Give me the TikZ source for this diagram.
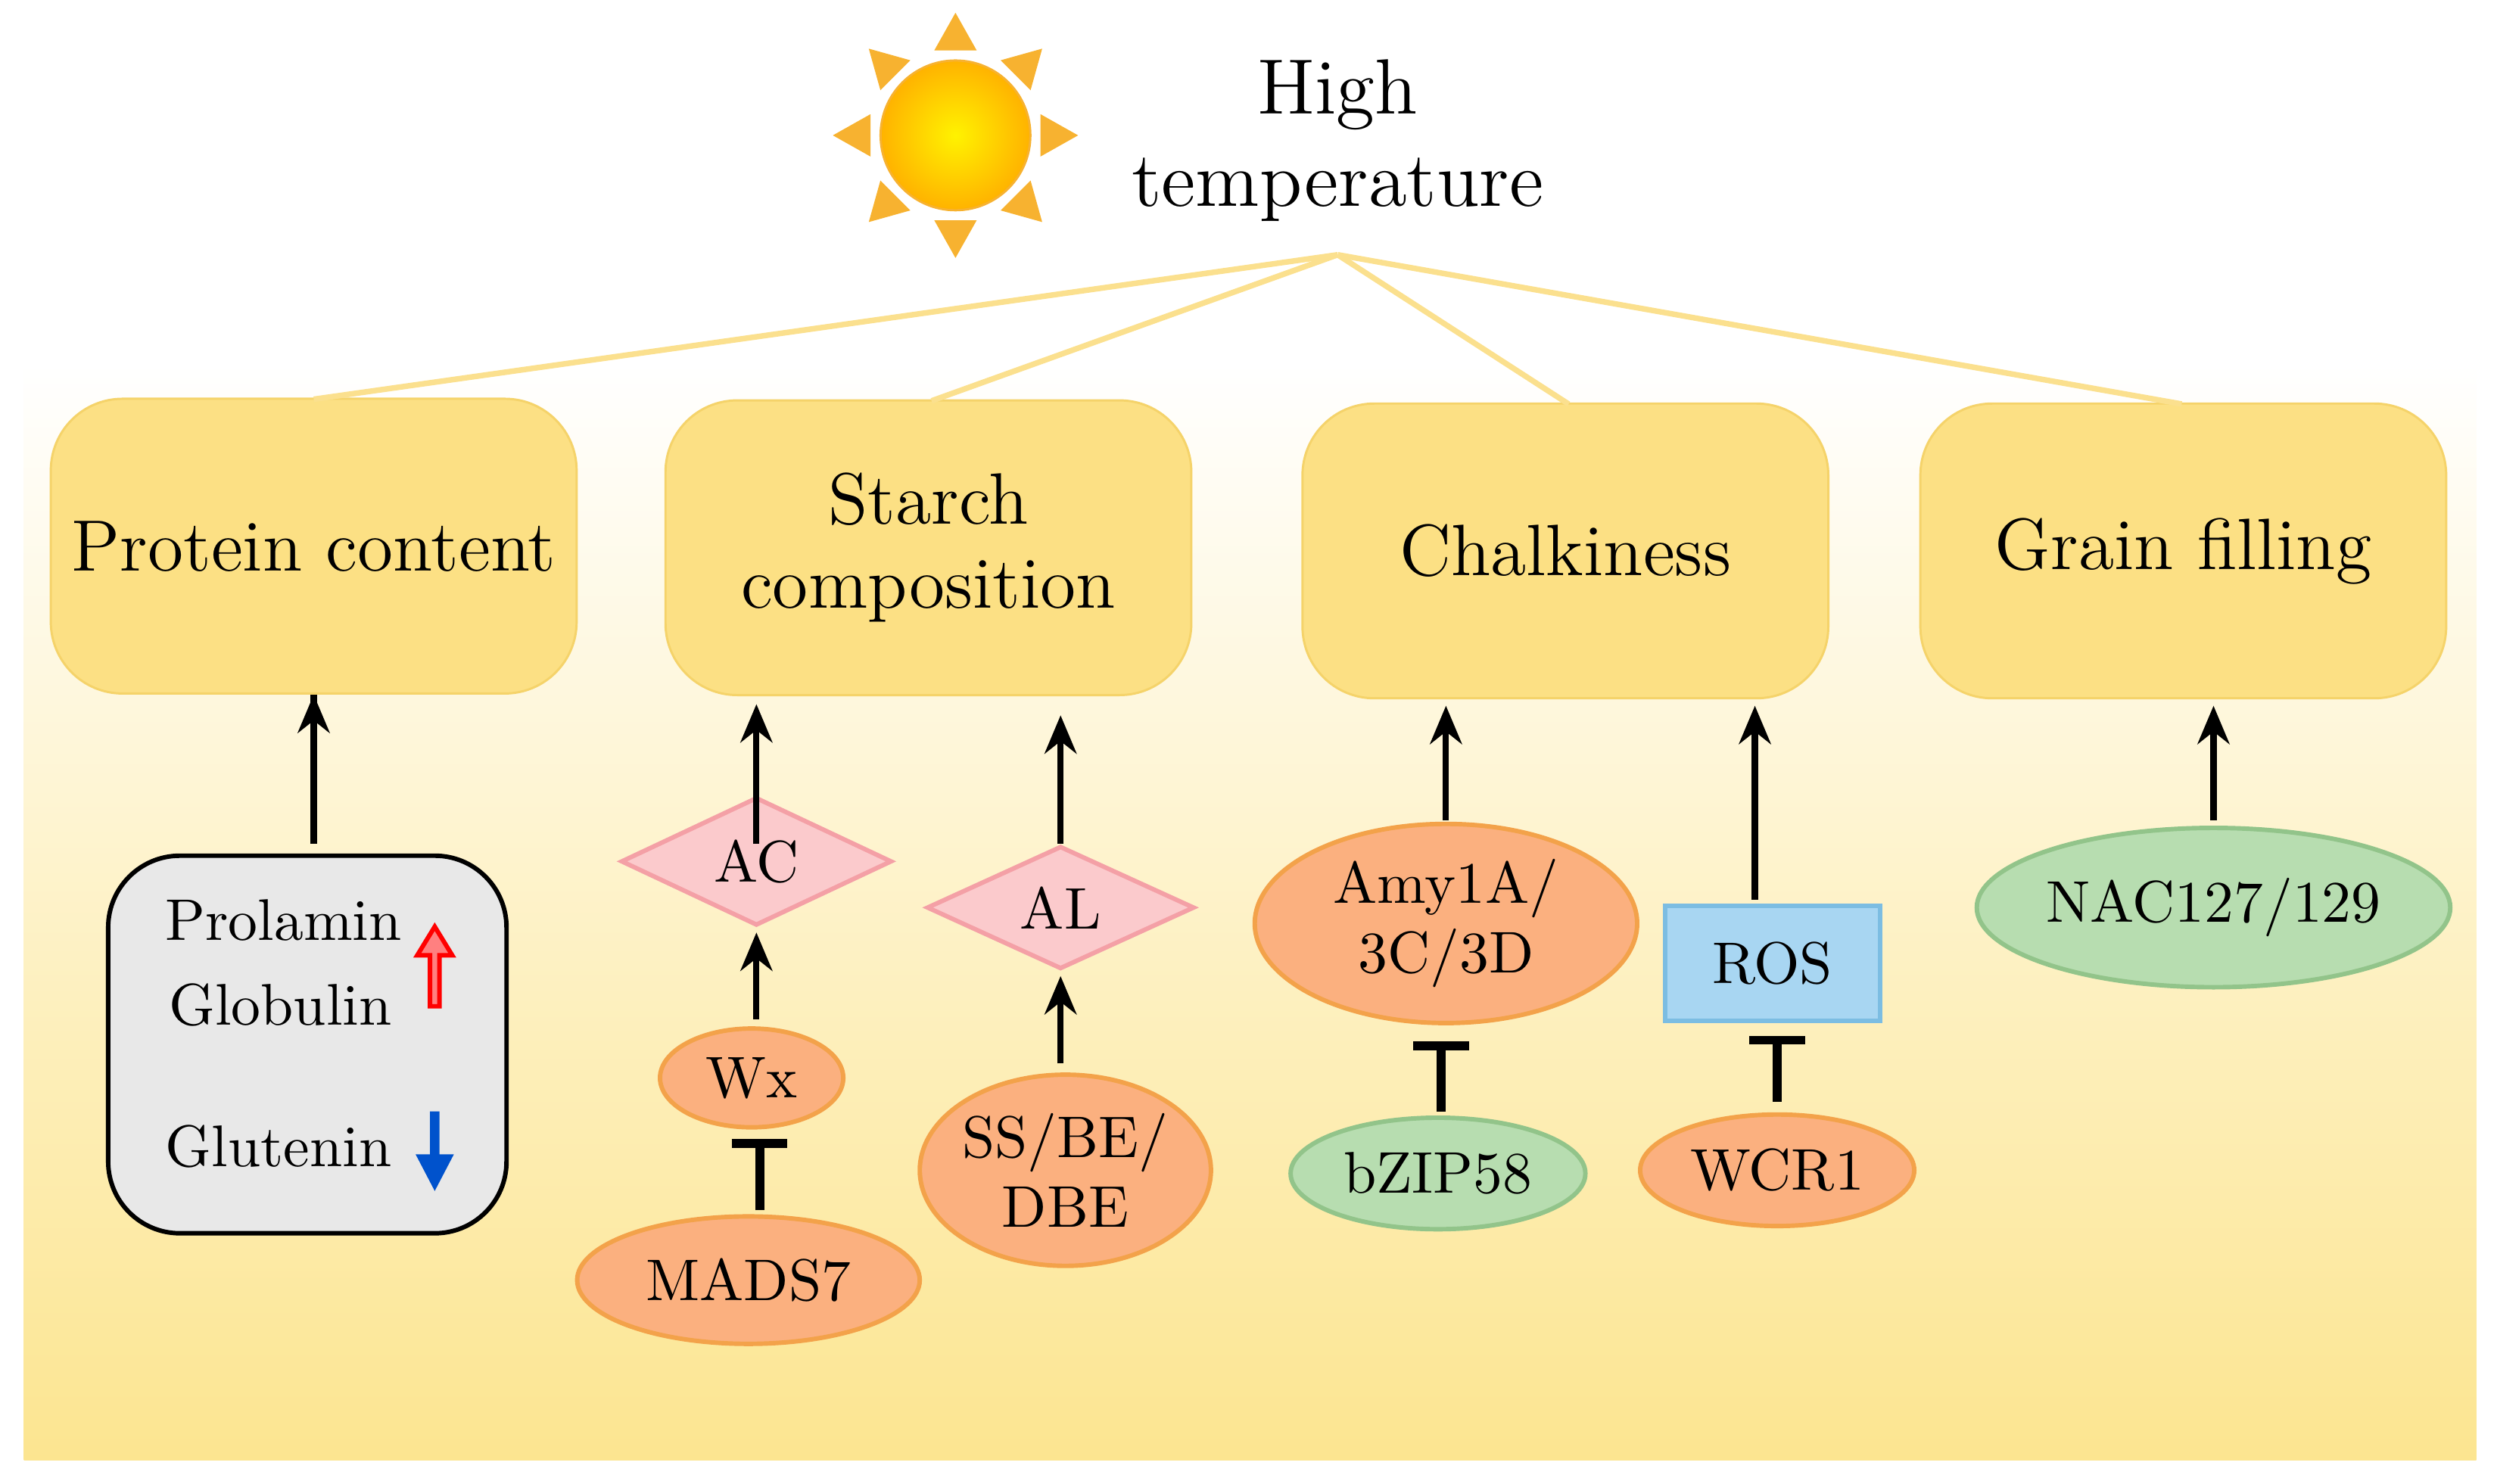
\documentclass[tikz,border=0pt]{standalone}
\usepackage{mathpazo}
\usepackage{tikz}
\usetikzlibrary{positioning, calc, arrows.meta, shapes.geometric}

\definecolor{boxyellow}{HTML}{FCE084}
\definecolor{boxedge}{HTML}{F5D36A}
\definecolor{bgyellow}{HTML}{FCE590}
\definecolor{linkyellow}{HTML}{FBE08E}
\definecolor{orangefill}{HTML}{FBB07F}
\definecolor{orangeedge}{HTML}{F3A24A}
\definecolor{greenfill}{HTML}{B7DDB0}
\definecolor{greenedge}{HTML}{92C48A}
\definecolor{pinkfill}{HTML}{FBCACC}
\definecolor{pinkedge}{HTML}{F4A0A6}
\definecolor{bluefill}{HTML}{A8D6F2}
\definecolor{blueedge}{HTML}{7CBDE2}
\definecolor{sunray}{HTML}{F7B230}

\begin{document}
\begin{tikzpicture}[x=0.01cm, y=-0.01cm,
	trait/.style={draw=boxedge, fill=boxyellow, rounded corners=0.45cm, minimum width=3.3cm, minimum height=1.85cm, align=center, font=\fontsize{13}{15}\selectfont},
	gene/.style={draw=orangeedge, fill=orangefill, ellipse, inner sep=0pt, thick, font=\fontsize{10.5}{12.5}\selectfont, align=center},
	tf/.style={gene, draw=greenedge, fill=greenfill},
	prod/.style={draw=pinkedge, fill=pinkfill, diamond, inner sep=0pt, thick, font=\fontsize{10.5}{12.5}\selectfont},
	edge/.style={-{Stealth[length=2.4mm, width=2mm]}, line width=1.1pt},
	block/.style={-{Bar[width=3.5mm]}, line width=1.6pt},
	link/.style={draw=linkyellow, line width=1pt}]

	\useasboundingbox (0,0) rectangle (1568,932);
	\shade[top color=white, bottom color=bgyellow] (15,228) rectangle (1555,917);

	% sun
	\foreach \a in {0,45,...,315}
		\fill[sunray] ($(600,85)+(\a:77)$) -- ($(600,85)+(\a+14:55)$) -- ($(600,85)+(\a-14:55)$) -- cycle;
	\shade[inner color=yellow!90!orange, outer color=orange!60!yellow, draw=sunray] (600,85) circle (0.47cm);
	\node[font=\fontsize{14}{16.5}\selectfont\bfseries, align=center] (Heat) at (840,88) {High\\temperature};
	\coordinate (hub) at (840,160);

	% traits
	\node[trait] (Protein) at (197,343) {Protein content};
	\node[trait] (Starch) at (583,344) {Starch\\composition};
	\node[trait] (Chalk) at (983,346) {Chalkiness};
	\node[trait] (Filling) at (1371,346) {Grain filling};

	\foreach \target/\dx in {Protein/0, Starch/2, Chalk/2, Filling/-1}
		\draw[link] (hub) -- ($(\target.north)+(\dx,1)$);

	% protein group
	\node[draw, fill=gray!18, rounded corners=0.45cm, minimum width=2.5cm, minimum height=2.37cm, line width=0.8pt] (Group) at (193,656) {};
	\node[font=\fontsize{10.5}{12.5}\selectfont] (Prolamin) at (178,578) {Prolamin};
	\node[font=\fontsize{10.5}{12.5}\selectfont] (Globulin) at (176,631) {Globulin};
	\node[font=\fontsize{10.5}{12.5}\selectfont] (Glutenin) at (175,720) {Glutenin};
	\draw[red, fill=red!50, line width=0.8pt] (270,632) -- (270,600) -- (262,600) -- (273,582) -- (284,600) -- (276,600) -- (276,632) -- cycle;
	\fill[blue!60!cyan!80!black] (270,698) -- (276,698) -- (276,725) -- (285,725) -- (273,748) -- (261,725) -- (270,725) -- cycle;

	% starch
	\node[prod, minimum width=1.7cm, minimum height=0.7cm] (AC) at (475,541) {AC};
	\node[gene, minimum width=1.15cm, minimum height=0.62cm] (Wx) at (472,677) {Wx};
	\node[gene, minimum width=2.15cm, minimum height=0.8cm] (MADS7) at (470,804) {MADS7};
	\node[prod, minimum width=1.68cm, minimum height=0.64cm] (AL) at (666,570) {AL};
	\node[gene, minimum width=1.75cm, minimum height=1.2cm] (SS) at (669,735) {SS/BE/\\DBE};

	% chalkiness
	\node[gene, minimum width=2.4cm, minimum height=1.25cm] (Amy) at (908,580) {Amy1A/\\3C/3D};
	\node[tf, minimum width=1.85cm, minimum height=0.7cm] (bZIP) at (903,737) {bZIP58};
	\node[draw=blueedge, fill=bluefill, thick, minimum width=1.35cm, minimum height=0.72cm, font=\fontsize{10.5}{12.5}\selectfont] (ROS) at (1113,605) {ROS};
	\node[gene, minimum width=1.72cm, minimum height=0.7cm] (WCR) at (1116,735) {WCR1};

	% grain filling
	\node[tf, minimum width=2.9cm, minimum height=1cm] (NAC) at (1390,570) {NAC127/129};

	\coordinate (pg) at (197,530);
	\draw[edge] (pg) -- (pg |- Protein.south) ++(0,0);
	\coordinate (ac) at (475,530);
	\draw[edge] (ac) -- ($(ac |- Starch.south)+(0,5)$);
	\coordinate (al) at (666,530);
	\draw[edge] (al) -- ($(al |- Starch.south)+(0,12)$);
	\coordinate (wx) at (475,640);
	\draw[edge] (wx) -- ($(wx |- AC.south)+(0,3)$);
	\coordinate (ss) at (666,668);
	\draw[edge] (ss) -- ($(ss |- AL.south)+(0,3)$);
	\coordinate (am) at (908,515);
	\draw[edge] (am) -- ($(am |- Chalk.south)+(0,4)$);
	\coordinate (ro) at (1102,565);
	\draw[edge] (ro) -- ($(ro |- Chalk.south)+(0,4)$);
	\coordinate (na) at (1390,515);
	\draw[edge] (na) -- ($(na |- Filling.south)+(0,4)$);
	\coordinate (md) at (477,760);
	\draw[block] (md) -- ($(md |- Wx.south)+(0,6)$);
	\coordinate (bz) at (905,698);
	\draw[block] (bz) -- ($(bz |- Amy.south)+(0,10)$);
	\coordinate (wc) at (1116,692);
	\draw[block] (wc) -- ($(wc |- ROS.south)+(0,8)$);

\end{tikzpicture}
\end{document}
